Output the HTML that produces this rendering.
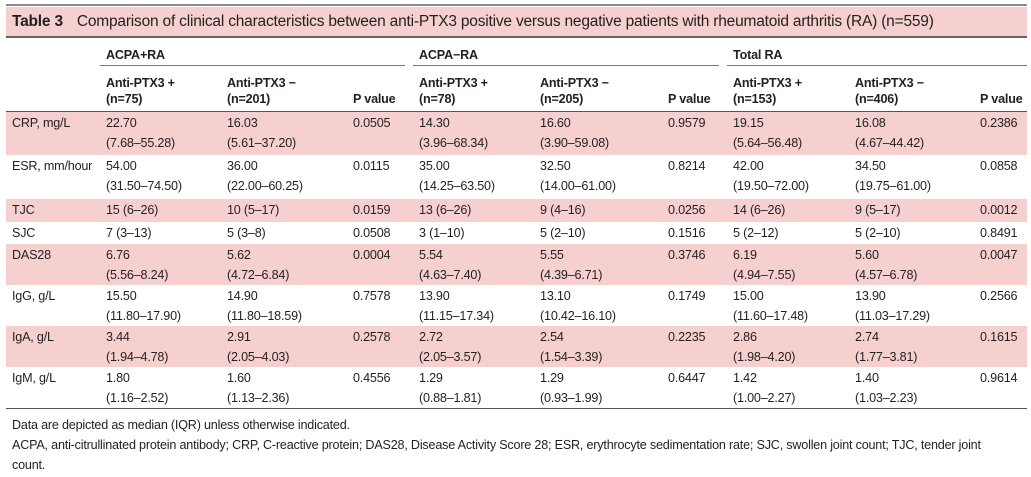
<!DOCTYPE html>
<html><head><meta charset="utf-8"><style>
body{margin:0;width:1031px;height:477px;background:#fff;font-family:"Liberation Sans",sans-serif;color:#231f20;overflow:hidden;position:relative}
.topline{position:absolute;left:6px;width:1021px;top:4px;height:2px;background:#8a8a8a}
.title{position:absolute;left:6px;width:1021px;top:7px;height:29px;background:#f5d0cf;font-size:15.5px;line-height:29px;white-space:nowrap;letter-spacing:-0.2px}
.title b{margin-left:6px;margin-right:14px}
.tline{position:absolute;left:6px;width:1021px;top:36px;height:2px;background:#666}
table{position:absolute;left:6px;top:38px;border-collapse:collapse;table-layout:fixed;width:1021px;font-size:12.6px;letter-spacing:-0.2px}
td,th{padding:0 0 0 6px;text-align:left;vertical-align:top;line-height:20px;white-space:nowrap}
th{font-weight:bold}
tr.g{height:28px}
.g th{vertical-align:bottom;padding-bottom:0}
.g th div{border-bottom:1.5px solid #777;height:27px;line-height:34px;margin-right:8px}
tr.h{height:45px}
.h th{vertical-align:bottom;padding-bottom:4px;border-bottom:1.5px solid #555;line-height:16px}
tr.r2{height:41px}
tr.r2.big{height:44px}
tr.r1{height:22.5px}
td{padding-top:1px}
tr.p td{background:#f5d0cf}
tr.last td{border-bottom:1.5px solid #555}
.note{position:absolute;left:12px;font-size:12.6px;letter-spacing:-0.2px;white-space:nowrap}
</style></head><body>
<div class="topline"></div>
<div class="title"><b>Table 3</b>Comparison of clinical characteristics between anti-PTX3 positive versus negative patients with rheumatoid arthritis (RA) (n=559)</div>
<div class="tline"></div>
<table>
<colgroup><col style="width:94px"><col style="width:121px"><col style="width:126px"><col style="width:66px"><col style="width:121px"><col style="width:128px"><col style="width:65px"><col style="width:122px"><col style="width:125px"><col style="width:53px"></colgroup>
<tr class="g"><th></th><th colspan="3" style="padding-left:0"><div style="padding-left:6px">ACPA+RA</div></th><th colspan="3" style="padding-left:0"><div style="padding-left:6px">ACPA−RA</div></th><th colspan="3" style="padding-left:0"><div style="padding-left:6px;margin-right:0">Total RA</div></th></tr>
<tr class="h"><th></th><th>Anti-PTX3 +<br>(n=75)</th><th>Anti-PTX3 −<br>(n=201)</th><th>P value</th><th>Anti-PTX3 +<br>(n=78)</th><th>Anti-PTX3 −<br>(n=205)</th><th>P value</th><th>Anti-PTX3 +<br>(n=153)</th><th>Anti-PTX3 −<br>(n=406)</th><th>P value</th></tr>
<tr class="r2 big p"><td>CRP, mg/L</td><td>22.70<br>(7.68–55.28)</td><td>16.03<br>(5.61–37.20)</td><td>0.0505</td><td>14.30<br>(3.96–68.34)</td><td>16.60<br>(3.90–59.08)</td><td>0.9579</td><td>19.15<br>(5.64–56.48)</td><td>16.08<br>(4.67–44.42)</td><td>0.2386</td></tr>
<tr class="r2 big"><td>ESR, mm/hour</td><td>54.00<br>(31.50–74.50)</td><td>36.00<br>(22.00–60.25)</td><td>0.0115</td><td>35.00<br>(14.25–63.50)</td><td>32.50<br>(14.00–61.00)</td><td>0.8214</td><td>42.00<br>(19.50–72.00)</td><td>34.50<br>(19.75–61.00)</td><td>0.0858</td></tr>
<tr class="r1 p"><td>TJC</td><td>15 (6–26)</td><td>10 (5–17)</td><td>0.0159</td><td>13 (6–26)</td><td>9 (4–16)</td><td>0.0256</td><td>14 (6–26)</td><td>9 (5–17)</td><td>0.0012</td></tr>
<tr class="r1"><td>SJC</td><td>7 (3–13)</td><td>5 (3–8)</td><td>0.0508</td><td>3 (1–10)</td><td>5 (2–10)</td><td>0.1516</td><td>5 (2–12)</td><td>5 (2–10)</td><td>0.8491</td></tr>
<tr class="r2 p"><td>DAS28</td><td>6.76<br>(5.56–8.24)</td><td>5.62<br>(4.72–6.84)</td><td>0.0004</td><td>5.54<br>(4.63–7.40)</td><td>5.55<br>(4.39–6.71)</td><td>0.3746</td><td>6.19<br>(4.94–7.55)</td><td>5.60<br>(4.57–6.78)</td><td>0.0047</td></tr>
<tr class="r2"><td>IgG, g/L</td><td>15.50<br>(11.80–17.90)</td><td>14.90<br>(11.80–18.59)</td><td>0.7578</td><td>13.90<br>(11.15–17.34)</td><td>13.10<br>(10.42–16.10)</td><td>0.1749</td><td>15.00<br>(11.60–17.48)</td><td>13.90<br>(11.03–17.29)</td><td>0.2566</td></tr>
<tr class="r2 p"><td>IgA, g/L</td><td>3.44<br>(1.94–4.78)</td><td>2.91<br>(2.05–4.03)</td><td>0.2578</td><td>2.72<br>(2.05–3.57)</td><td>2.54<br>(1.54–3.39)</td><td>0.2235</td><td>2.86<br>(1.98–4.20)</td><td>2.74<br>(1.77–3.81)</td><td>0.1615</td></tr>
<tr class="r2 last"><td>IgM, g/L</td><td>1.80<br>(1.16–2.52)</td><td>1.60<br>(1.13–2.36)</td><td>0.4556</td><td>1.29<br>(0.88–1.81)</td><td>1.29<br>(0.93–1.99)</td><td>0.6447</td><td>1.42<br>(1.00–2.27)</td><td>1.40<br>(1.03–2.23)</td><td>0.9614</td></tr>
</table>
<div class="note" style="top:418px">Data are depicted as median (IQR) unless otherwise indicated.</div>
<div class="note" style="top:438px">ACPA, anti-citrullinated protein antibody; CRP, C-reactive protein; DAS28, Disease Activity Score 28; ESR, erythrocyte sedimentation rate; SJC, swollen joint count; TJC, tender joint</div>
<div class="note" style="top:458px">count.</div>
</body></html>
